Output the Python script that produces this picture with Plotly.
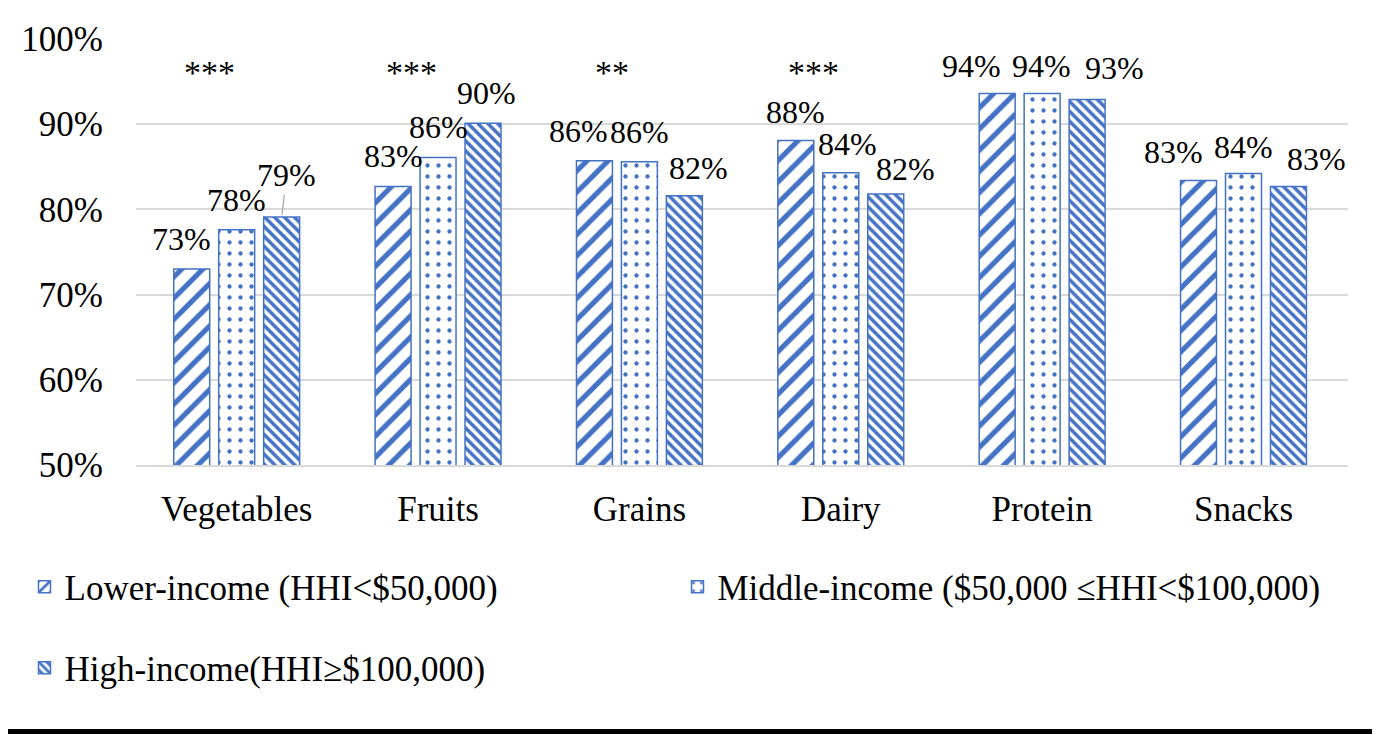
import plotly.graph_objects as go

# --- data ---
categories = ["Vegetables", "Fruits", "Grains", "Dairy", "Protein", "Snacks"]
lower_income = [73.0, 82.7, 85.7, 88.1, 93.6, 83.4]
middle_income = [77.6, 86.1, 85.6, 84.3, 93.6, 84.2]
high_income = [79.1, 90.1, 81.6, 81.8, 92.9, 82.7]
series_names = [
    "Lower-income (HHI<$50,000)",
    "Middle-income ($50,000 \u2264HHI<$100,000)",
    "High-income(HHI\u2265$100,000)",
]
significance = ["***", "***", "**", "***", "", ""]
star_level = 96.1

y_ticks = [50, 60, 70, 80, 90, 100]
y_tick_labels = ["50%", "60%", "70%", "80%", "90%", "100%"]

# --- label placement (as nudged by hand in the original), in px ---
bar_step = 45
label_dx = [
    [-10, 0, -16, 0, -26, -25],
    [0, 0, 0, 7, -1, 0],
    [5, 3, 14, 20, 27, 28],
]
label_dy = [
    [-30, -30, -30, -28, -28, -28],
    [-30, -30, -30, -29, -28, -27],
    [-42, -30, -28, -25, -31, -27],
]
leader = [
    [False] * 6,
    [False] * 6,
    [True, False, False, False, False, False],
]

BLUE = "#4472C4"
FONT = "Liberation Serif, Times New Roman, serif"

patterns = [
    dict(shape="/", size=15, solidity=0.35, fgcolor=BLUE, bgcolor="white", fgopacity=1),
    dict(shape=".", size=11, solidity=0.12, fgcolor=BLUE, bgcolor="white", fgopacity=1),
    dict(shape="\\", size=7, solidity=0.5, fgcolor=BLUE, bgcolor="white", fgopacity=1),
]

all_series = [lower_income, middle_income, high_income]

fig = go.Figure()

for i, (name, values) in enumerate(zip(series_names, all_series)):
    fig.add_trace(
        go.Bar(
            x=categories,
            y=values,
            name=name,
            marker=dict(color="white", line=dict(color=BLUE, width=1.5), pattern=patterns[i]),
            legend="legend" if i < 2 else "legend2",
        )
    )

# data labels
for i, values in enumerate(all_series):
    for j, (cat, v) in enumerate(zip(categories, values)):
        fig.add_annotation(
            x=cat, y=v, text=f"{v:.0f}%",
            xshift=(i - 1) * bar_step,
            showarrow=True, arrowhead=0, arrowwidth=1.2,
            arrowcolor="#A6A6A6" if leader[i][j] else "rgba(0,0,0,0)",
            ax=label_dx[i][j], ay=label_dy[i][j], standoff=2,
            font=dict(family=FONT, size=32, color="black"),
        )

# significance stars above groups
for cat, stars in zip(categories, significance):
    if stars:
        fig.add_annotation(
            x=cat, y=star_level, text=stars, showarrow=False,
            xshift=-27, font=dict(family=FONT, size=34, color="black"),
        )

# thin black rule at the bottom of the figure
fig.add_shape(
    type="rect", xref="paper", yref="paper",
    x0=-0.3, x1=1.3, y0=-0.68, y1=-0.62,
    fillcolor="black", line=dict(width=0),
)

fig.update_layout(
    width=1380, height=734,
    margin=dict(l=128, r=40, t=24, b=277),
    paper_bgcolor="white", plot_bgcolor="white",
    barmode="group", bargap=0.33, bargroupgap=0.2,
    font=dict(family=FONT, size=35, color="black"),
    legend=dict(
        orientation="h", x=-0.092, xanchor="left", y=-0.217, yanchor="top",
        entrywidth=608, font=dict(family=FONT, size=35),
    ),
    legend2=dict(
        orientation="h", x=-0.092, xanchor="left", y=-0.407, yanchor="top",
        font=dict(family=FONT, size=35),
    ),
)

fig.update_xaxes(
    showline=True, linecolor="#D9D9D9", linewidth=1.5,
    tickfont=dict(family=FONT, size=35), ticks="", ticklabelstandoff=12,
)
fig.update_yaxes(
    range=[50, 100], tickvals=y_ticks, ticktext=y_tick_labels,
    showgrid=True, gridcolor="#D9D9D9", gridwidth=1.5, zeroline=False,
    tickfont=dict(family=FONT, size=35), ticklabelstandoff=32,
)

fig.write_html("out.html")
